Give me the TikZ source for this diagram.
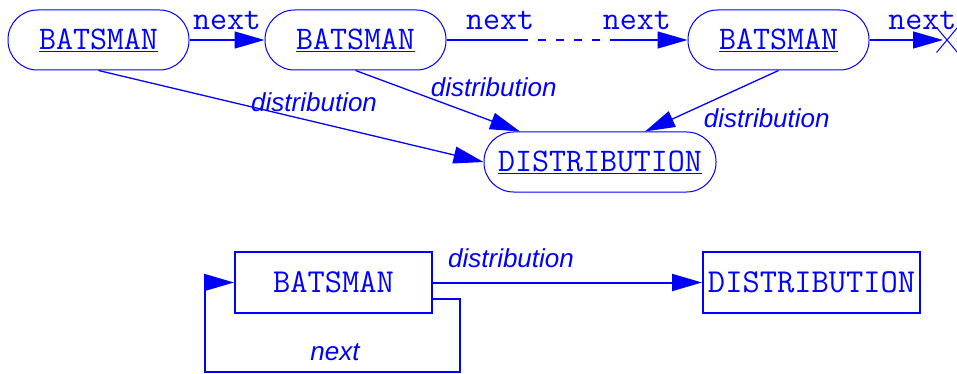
\documentclass[tikz,border=0pt]{standalone}
\usepackage{fontspec}
\setsansfont{Liberation Sans}
\usepackage{tikz}
\usetikzlibrary{arrows.meta, positioning, shapes.misc}
\definecolor{RefBlue}{RGB}{0,0,255}

\begin{document}
\begin{tikzpicture}[
  x=1pt, y=-1pt,
  object/.style={rectangle, draw=RefBlue, line width=1pt, rounded corners=29.5pt, minimum width=181pt, minimum height=60pt, inner sep=0pt, text=RefBlue, font=\fontsize{33}{38}\selectfont\ttfamily},
  klass/.style={rectangle, draw=RefBlue, line width=2pt, minimum height=61pt, inner sep=0pt, text=RefBlue, font=\fontsize{33.5}{38}\selectfont\ttfamily},
  link/.style={draw=RefBlue, line width=1.3pt},
  assoc/.style={draw=RefBlue, line width=2pt},
  ptrlabel/.style={text=RefBlue, inner sep=0pt, font=\fontsize{33}{38}\selectfont\ttfamily},
  rolelabel/.style={text=RefBlue, inner sep=0pt, font=\fontsize{26}{30}\selectfont\sffamily\itshape},
  >={Triangle[length=30pt,width=17pt]}
]
\useasboundingbox (0,0) rectangle (957,374);

\node[object] (Bat1) at (98.5,40) {\underline{BATSMAN}};
\node[object] (Bat2) at (355.5,40) {\underline{BATSMAN}};
\node[object] (Bat3) at (778.5,40) {\underline{BATSMAN}};
\node[object, minimum width=232pt] (Dist) at (600,162) {\underline{DISTRIBUTION}};
\coordinate (gapA) at (520,40);
\coordinate (gapB) at (612,40);
\coordinate (nilEnd) at (943,40);
\node[cross out, draw=RefBlue, line width=1pt, minimum width=20pt, minimum height=24pt, inner sep=0pt] (Nil) at (947,40) {};

\draw[link,->] (Bat1) -- node[ptrlabel, above=10pt]{next} (Bat2);
\draw[link] (Bat2) -- node[ptrlabel, pos=0.73, above=10pt]{next} (gapA);
\draw[link, dash pattern=on 8pt off 10pt] (gapA) -- (gapB);
\draw[link,->] (gapB) -- node[ptrlabel, pos=0.33, above=10pt]{next} (Bat3);
\draw[link,->] (Bat3) -- node[ptrlabel, pos=0.72, above=10pt]{next} (nilEnd);

\draw[link,->] (Bat1.south) -- node[rolelabel, pos=0.56, yshift=20pt]{distribution} (Dist.west);
\draw[link,->] (Bat2.south) -- node[rolelabel, pos=0.84, yshift=35pt]{distribution} ([xshift=-80pt]Dist.north);
\draw[link,->] (Bat3.south) -- node[rolelabel, pos=0.5, xshift=55pt, yshift=-17pt]{distribution} ([xshift=45pt]Dist.north);

\node[klass, minimum width=197pt] (Batsman) at (333.5,282.5) {BATSMAN};
\node[klass, minimum width=217pt] (Distribution) at (811.5,282.5) {DISTRIBUTION};
\coordinate (loopR) at (460,372);
\coordinate (loopL) at (205,372);

\draw[assoc,->] (Batsman) -- node[rolelabel, pos=0.29, yshift=24pt]{distribution} (Distribution);
\draw[assoc,->] ([yshift=-16pt]Batsman.east) -| (loopR) -- node[rolelabel, pos=0.49, yshift=20pt]{next} (loopL) |- (Batsman.west);
\end{tikzpicture}
\end{document}
